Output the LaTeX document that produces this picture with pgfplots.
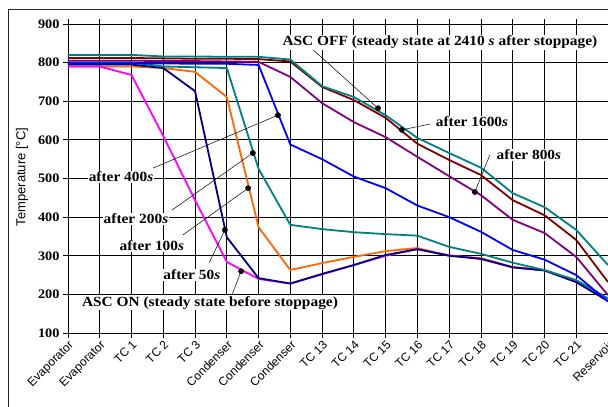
\documentclass[border=0pt]{standalone}
\usepackage{pgfplots}
\usepackage{pgfplotstable}
\pgfplotsset{compat=1.18}
\usepackage{fontspec}
\setmainfont{Liberation Serif}
\setsansfont{Liberation Sans}
\newfontfamily\labfont[FakeStretch=1.1]{Liberation Serif}
\definecolor{cMag}{RGB}{255,0,255}
\definecolor{cNavy}{RGB}{0,0,128}
\definecolor{cOrange}{RGB}{255,102,0}
\definecolor{cTeal}{RGB}{0,128,128}
\definecolor{cBlue}{RGB}{0,0,255}
\definecolor{cPurple}{RGB}{128,0,128}
\definecolor{cMaroon}{RGB}{128,0,0}
\pgfplotstableread{
x  on   s50  s100 s200 s400 s800 s1600 off
0  790  795  790  800  798  805  812   820
1  790  795  790  800  798  805  812   820
2  768  795  790  800  798  805  812   820
3  610  786  786  790  798  804  811   816
4  444  726  776  788  797  804  810   816
5  284  348  711  786  797  803  810   815
6  240  242  374  525  794  802  809   815
7  228  228  263  380  588  763  803   808
8  252  253  281  369  550  695  737   739
9  276  276  297  361  505  646  703   711
10 300  302  312  356  475  607  657   664
11 317  317  320  352  430  556  590   605
12 301  300  300  323  400  506  548   566
13 292  292  294  305  362  457  509   528
14 270  270  271  282  315  393  444   462
15 262  262  263  263  290  359  405   426
16 232  232  232  237  250  297  341   367
17 183  183  183  190  182  198  232   276
}\data
\newcommand{\lab}{\labfont\bfseries\fontsize{14}{15}\selectfont}
\begin{document}
\begin{tikzpicture}
\useasboundingbox (-68pt,-74pt) rectangle (540pt,333pt);
\clip (-68pt,-74pt) rectangle (540pt,333pt);
\draw[line width=1pt, black!85] (-59pt,-90pt) -- (-59pt,323pt) -- (560pt,323pt);
\begin{axis}[
  at={(0pt,0pt)}, anchor=south west, scale only axis,
  width=549.5pt, height=309pt,
  xmin=0, xmax=17.3, ymin=100, ymax=900,
  xtick={0,...,17},
  xticklabels={Evaporator,Evaporator,TC 1,TC 2,TC 3,Condenser,Condenser,Condenser,TC 13,TC 14,TC 15,TC 16,TC 17,TC 18,TC 19,TC 20,TC 21,Reservoir},
  x tick label style={rotate=45, anchor=north east, font=\sffamily\fontsize{12}{12}\selectfont, inner sep=1pt},
  ytick={100,200,...,900},
  y tick label style={font=\labfont\bfseries\fontsize{13}{13}\selectfont},
  /pgf/number format/assume math mode=true,
  grid=major, grid style={black, line width=0.8pt},
  tick align=outside, major tick length=5pt,
  tick style={black, line width=0.8pt},
  axis line style={black, line width=0.9pt},
  every axis plot/.append style={line width=1.8pt, mark=none},
]
\addplot[cOrange] table[x=x,y=s100]{\data};
\addplot[cMag] table[x=x,y=on]{\data};
\addplot[cNavy] table[x=x,y=s50]{\data};
\addplot[cTeal] table[x=x,y=s200]{\data};
\addplot[cBlue] table[x=x,y=s400]{\data};
\addplot[cPurple] table[x=x,y=s800]{\data};
\addplot[cMaroon] table[x=x,y=s1600]{\data};
\addplot[cTeal] table[x=x,y=off]{\data};
% pointer lines
\draw[black, line width=0.5pt] (axis cs:7.65,838) -- (axis cs:9.76,682);
\draw[black, line width=0.5pt] (axis cs:11.4,641) -- (axis cs:10.51,626);
\draw[black, line width=0.5pt] (axis cs:13.28,561) -- (axis cs:12.81,465);
\draw[black, line width=0.5pt] (axis cs:2.68,527) -- (axis cs:6.61,664);
\draw[black, line width=0.5pt] (axis cs:3.27,418) -- (axis cs:5.82,566);
\draw[black, line width=0.5pt] (axis cs:3.62,354) -- (axis cs:5.67,475);
\draw[black, line width=0.5pt] (axis cs:4.44,281) -- (axis cs:4.94,367);
\draw[black, line width=0.5pt] (axis cs:5.16,198) -- (axis cs:5.45,260);
% labels
\node[fill=white, inner sep=1pt, font=\lab] at (axis cs:11.71,853) {ASC OFF (steady state at 2410 \textit{s} after stoppage)};
\node[fill=white, inner sep=1pt, font=\lab] at (axis cs:12.72,646) {after 1600\textit{s}};
\node[fill=white, inner sep=1pt, font=\lab] at (axis cs:14.51,561) {after 800\textit{s}};
\node[fill=white, inner sep=1pt, font=\lab] at (axis cs:1.67,504) {after 400\textit{s}};
\node[fill=white, inner sep=1pt, font=\lab] at (axis cs:2.14,395) {after 200\textit{s}};
\node[fill=white, inner sep=1pt, font=\lab] at (axis cs:2.64,325) {after 100\textit{s}};
\node[fill=white, inner sep=1pt, font=\lab] at (axis cs:3.9,250) {after 50\textit{s}};
\node[fill=white, inner sep=1pt, font=\lab] at (axis cs:4.47,178) {ASC ON (steady state before stoppage)};
\addplot[only marks, mark=*, mark size=2.6pt, black, line width=0.5pt] coordinates {
(9.76,682) (10.51,626) (12.81,465) (6.61,664) (5.82,566) (5.67,475) (4.94,367) (5.45,260)};
\end{axis}
\node[rotate=90, font=\sffamily\fontsize{13}{13}\selectfont] at (-46pt,156pt) {Temperature [°C]};
\end{tikzpicture}
\end{document}
